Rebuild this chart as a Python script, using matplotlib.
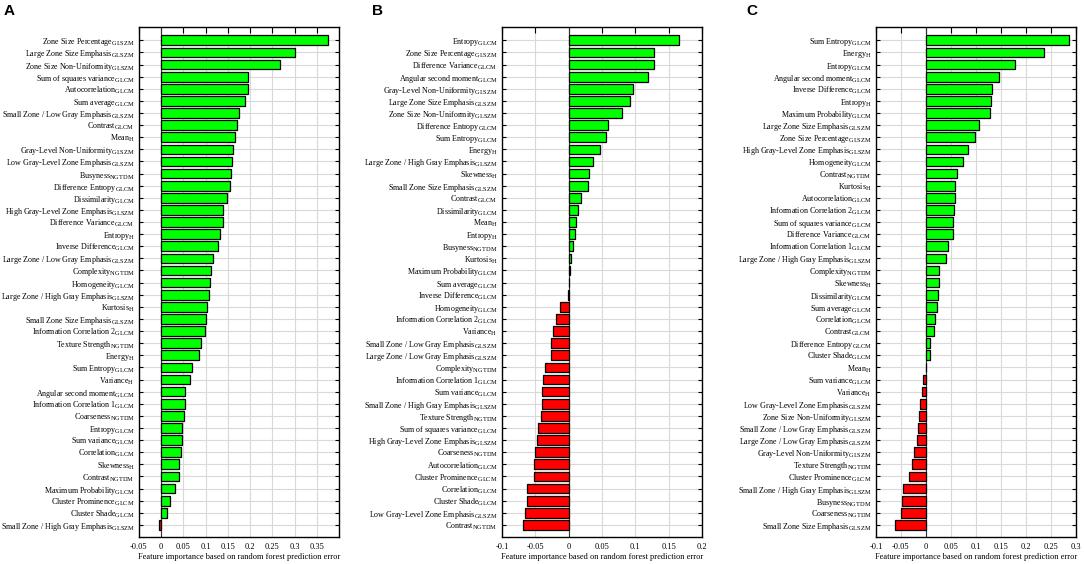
import matplotlib
matplotlib.use('Agg')
import matplotlib.pyplot as plt
import numpy as np

plt.rcParams['font.family'] = 'Liberation Serif'
plt.rcParams['mathtext.fontset'] = 'custom'
plt.rcParams['mathtext.rm'] = 'Liberation Serif'
plt.rcParams['mathtext.it'] = 'Liberation Serif:italic'
plt.rcParams['mathtext.bf'] = 'Liberation Serif:bold'

# subscripts in the original are a bit bigger than mathtext's default 0.7
try:
    import matplotlib._mathtext as _mt
    _mt.SHRINK_FACTOR = 0.8
except Exception:
    pass

# panel A
names_a = ['Zone Size Percentage', 'Large Zone Size Emphasis', 'Zone Size Non-Uniformity',
           'Sum of squares variance', 'Autocorrelation', 'Sum average',
           'Small Zone / Low Gray Emphasis', 'Contrast', 'Mean', 'Gray-Level Non-Uniformity',
           'Low Gray-Level Zone Emphasis', 'Busyness', 'Difference Entropy', 'Dissimilarity',
           'High Gray-Level Zone Emphasis', 'Difference Variance', 'Entropy', 'Inverse Difference',
           'Large Zone / Low Gray Emphasis', 'Complexity', 'Homogeneity',
           'Large Zone / High Gray Emphasis', 'Kurtosis', 'Small Zone Size Emphasis',
           'Information Correlation 2', 'Texture Strength', 'Energy', 'Sum Entropy', 'Variance',
           'Angular second moment', 'Information Correlation 1', 'Coarseness', 'Entropy',
           'Sum variance', 'Correlation', 'Skewness', 'Contrast', 'Maximum Probability',
           'Cluster Prominence', 'Cluster Shade', 'Small Zone / High Gray Emphasis']
subs_a = ['GLSZM', 'GLSZM', 'GLSZM', 'GLCM', 'GLCM', 'GLCM', 'GLSZM', 'GLCM', 'H', 'GLSZM',
          'GLSZM', 'NGTDM', 'GLCM', 'GLCM', 'GLSZM', 'GLCM', 'H', 'GLCM', 'GLSZM', 'NGTDM',
          'GLCM', 'GLSZM', 'H', 'GLSZM', 'GLCM', 'NGTDM', 'H', 'GLCM', 'H', 'GLCM', 'GLCM',
          'NGTDM', 'GLCM', 'GLCM', 'GLCM', 'H', 'NGTDM', 'GLCM', 'GLCM', 'GLCM', 'GLSZM']
vals_a = [0.376, 0.302, 0.268, 0.196, 0.195, 0.189, 0.176, 0.170, 0.167, 0.161, 0.160, 0.158,
          0.155, 0.148, 0.139, 0.139, 0.133, 0.128, 0.116, 0.112, 0.110, 0.107, 0.104, 0.100,
          0.099, 0.090, 0.084, 0.070, 0.065, 0.054, 0.053, 0.052, 0.047, 0.046, 0.044, 0.041,
          0.041, 0.030, 0.019, 0.014, -0.006]

# panel B
names_b = ['Entropy', 'Zone Size Percentage', 'Difference Variance', 'Angular second moment',
           'Gray-Level Non-Uniformity', 'Large Zone Size Emphasis', 'Zone Size Non-Uniformity',
           'Difference Entropy', 'Sum Entropy', 'Energy', 'Large Zone / High Gray Emphasis',
           'Skewness', 'Small Zone Size Emphasis', 'Contrast', 'Dissimilarity', 'Mean', 'Entropy',
           'Busyness', 'Kurtosis', 'Maximum Probability', 'Sum average', 'Inverse Difference',
           'Homogeneity', 'Information Correlation 2', 'Variance', 'Small Zone / Low Gray Emphasis',
           'Large Zone / Low Gray Emphasis', 'Complexity', 'Information Correlation 1',
           'Sum variance', 'Small Zone / High Gray Emphasis', 'Texture Strength',
           'Sum of squares variance', 'High Gray-Level Zone Emphasis', 'Coarseness',
           'Autocorrelation', 'Cluster Prominence', 'Correlation', 'Cluster Shade',
           'Low Gray-Level Zone Emphasis', 'Contrast']
subs_b = ['GLCM', 'GLSZM', 'GLCM', 'GLCM', 'GLSZM', 'GLSZM', 'GLSZM', 'GLCM', 'GLCM', 'H',
          'GLSZM', 'H', 'GLSZM', 'GLCM', 'GLCM', 'H', 'H', 'NGTDM', 'H', 'GLCM', 'GLCM', 'GLCM',
          'GLCM', 'GLCM', 'H', 'GLSZM', 'GLSZM', 'NGTDM', 'GLCM', 'GLCM', 'GLSZM', 'NGTDM',
          'GLCM', 'GLSZM', 'NGTDM', 'GLCM', 'GLCM', 'GLCM', 'GLCM', 'GLSZM', 'NGTDM']
vals_b = [0.1655, 0.1285, 0.1275, 0.1185, 0.096, 0.0915, 0.0795, 0.0585, 0.056, 0.0465, 0.036,
          0.030, 0.029, 0.018, 0.014, 0.0105, 0.009, 0.006, 0.003, 0.0025, 0.001, -0.0015,
          -0.0135, -0.019, -0.023, -0.026, -0.0265, -0.0355, -0.038, -0.0395, -0.040, -0.041,
          -0.0455, -0.047, -0.050, -0.0515, -0.052, -0.062, -0.0625, -0.066, -0.0685]

# panel C
names_c = ['Sum Entropy', 'Energy', 'Entropy', 'Angular second moment', 'Inverse Difference',
           'Entropy', 'Maximum Probability', 'Large Zone Size Emphasis', 'Zone Size Percentage',
           'High Gray-Level Zone Emphasis', 'Homogeneity', 'Contrast', 'Kurtosis',
           'Autocorrelation', 'Information Correlation 2', 'Sum of squares variance',
           'Difference Variance', 'Information Correlation 1', 'Large Zone / High Gray Emphasis',
           'Complexity', 'Skewness', 'Dissimilarity', 'Sum average', 'Correlation', 'Contrast',
           'Difference Entropy', 'Cluster Shade', 'Mean', 'Sum variance', 'Variance',
           'Low Gray-Level Zone Emphasis', 'Zone Size Non-Uniformity',
           'Small Zone / Low Gray Emphasis', 'Large Zone / Low Gray Emphasis',
           'Gray-Level Non-Uniformity', 'Texture Strength', 'Cluster Prominence',
           'Small Zone / High Gray Emphasis', 'Busyness', 'Coarseness', 'Small Zone Size Emphasis']
subs_c = ['GLCM', 'H', 'GLCM', 'GLCM', 'GLCM', 'H', 'GLCM', 'GLSZM', 'GLSZM', 'GLSZM', 'GLCM',
          'NGTDM', 'H', 'GLCM', 'GLCM', 'GLCM', 'GLCM', 'GLCM', 'GLSZM', 'NGTDM', 'H', 'GLCM',
          'GLCM', 'GLCM', 'GLCM', 'GLCM', 'GLCM', 'H', 'GLCM', 'H', 'GLSZM', 'GLSZM', 'GLSZM',
          'GLSZM', 'GLSZM', 'NGTDM', 'GLCM', 'GLSZM', 'NGTDM', 'NGTDM', 'GLSZM']
vals_c = [0.285, 0.235, 0.177, 0.145, 0.131, 0.130, 0.128, 0.106, 0.098, 0.083, 0.073, 0.061,
          0.058, 0.057, 0.055, 0.053, 0.053, 0.043, 0.040, 0.025, 0.025, 0.024, 0.021, 0.017,
          0.015, 0.008, 0.007, -0.0005, -0.006, -0.008, -0.013, -0.014, -0.017, -0.019, -0.025,
          -0.029, -0.035, -0.047, -0.049, -0.051, -0.062]

ticks_a = [-0.05, 0, 0.05, 0.1, 0.15, 0.2, 0.25, 0.3, 0.35]
ticks_b = [-0.1, -0.05, 0, 0.05, 0.1, 0.15, 0.2]
ticks_c = [-0.1, -0.05, 0, 0.05, 0.1, 0.15, 0.2, 0.25, 0.3]

W, H = 1084, 564
fig = plt.figure(figsize=(W / 100, H / 100), dpi=100)

fs_lab = 5.8
fs_tick = 6.0
panels = [
    ('A', names_a, subs_a, vals_a, ticks_a, (-0.05, 0.40), 139, 4),
    ('B', names_b, subs_b, vals_b, ticks_b, (-0.1, 0.2), 502, 372),
    ('C', names_c, subs_c, vals_c, ticks_c, (-0.1, 0.3), 876, 746),
]

for letter, names, subs, vals, ticks, xlim, left_px, let_px in panels:
    ax = fig.add_axes([left_px / W, 27 / H, 200 / W, 510 / H])
    n = len(vals)
    y = np.arange(n)
    colors = ['#00ff00' if v > 0 else '#ff0000' for v in vals]
    ax.barh(y, vals, height=0.8, color=colors, edgecolor='black', linewidth=0.9, zorder=3)
    ax.axvline(0, color='#333333', linewidth=0.8, zorder=2)
    ax.set_ylim(n - 1 + 1.0, -1.1)
    ax.set_xlim(*xlim)
    ax.set_yticks(y)
    ax.set_yticklabels([nm + r'$_{\mathrm{' + s + '}}$' for nm, s in zip(names, subs)], fontsize=fs_lab)
    ax.set_xticks(ticks)
    ax.set_xticklabels(['%g' % t for t in ticks], fontsize=fs_tick)
    ax.grid(True, color='#d9d9d9', linewidth=0.8, zorder=0)
    ax.set_axisbelow(True)
    ax.tick_params(axis='y', direction='in', length=3, width=0.8, left=True, right=True, pad=3)
    ax.tick_params(axis='x', direction='in', length=4, width=0.8, top=True, bottom=False, pad=4)
    for sp in ax.spines.values():
        sp.set_linewidth(1.0)
    ax.set_xlabel('Feature importance based on random forest prediction error', fontsize=fs_tick, labelpad=2)
    fig.text(let_px / W, 1 - 4 / H, letter, fontsize=11, fontweight='bold', family='Liberation Sans', va='top', ha='left')

fig.savefig('out.png', dpi=100)
